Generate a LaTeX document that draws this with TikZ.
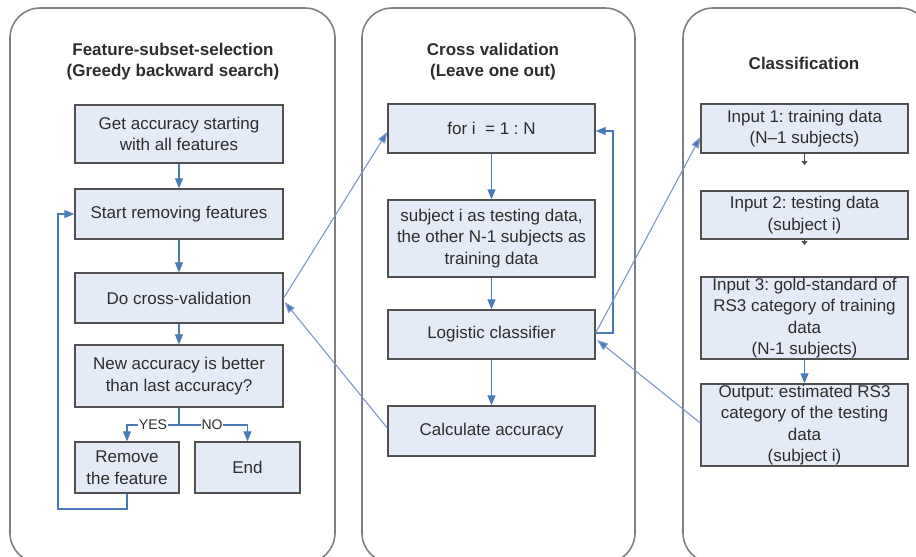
\documentclass[tikz,border=0pt]{standalone}
\usepackage{fontspec}
\setmainfont{Liberation Sans}
\usetikzlibrary{arrows.meta,calc}
\frenchspacing
\definecolor{boxfill}{RGB}{228,234,246}
\definecolor{boxline}{RGB}{80,80,80}
\definecolor{panelline}{RGB}{128,128,128}
\definecolor{txt}{RGB}{45,45,45}
\definecolor{flow}{RGB}{74,122,184}
\definecolor{link}{RGB}{125,152,198}
\tikzset{
  panel/.style={draw=panelline, line width=1.6, rounded corners=30},
  stage/.style={draw=boxline, fill=boxfill, line width=1.4, align=center,
    inner sep=0pt, text=txt, font=\fontsize{17}{21.5}\selectfont},
  heading/.style={align=center, text=txt, inner sep=0pt,
    font=\fontsize{17}{21}\selectfont\bfseries},
  flowarrow/.style={draw=flow, line width=1.2, -{Triangle[length=10,width=8]}},
  flowline/.style={draw=flow, line width=1.2},
  linkarrow/.style={draw=link, line width=1.1, -{Triangle[length=11,width=8,fill=flow]}},
  tinyarrow/.style={draw=boxline, line width=1, -{Triangle[length=4,width=6]}},
  branch/.style={fill=white, inner sep=0.5pt, text=txt, font=\fontsize{14}{14}\selectfont}
}
\begin{document}
\begin{tikzpicture}[x=1pt,y=-1pt]
\path[use as bounding box] (0,0) rectangle (916,557);
\clip (0,0) rectangle (916,557);

% three panels
\draw[panel] (10,8) rectangle (335,563);
\draw[panel] (362,8) rectangle (635,563);
\draw[panel] (683,8) rectangle (930,563);

% headings
\node[heading] (hleft) at (173,62) {Feature-subset-selection\\(Greedy backward search)};
\node[heading] (hmid) at (493,62) {Cross validation\\(Leave one out)};
\node[heading] (hright) at (804,63) {Classification};

% feature subset selection
\node[stage, minimum width=208, minimum height=58] (get) at (179,134) {Get accuracy starting\\with all features};
\node[stage, minimum width=208, minimum height=50] (start) at (179,214) {Start removing features};
\node[stage, minimum width=208, minimum height=50] (docv) at (179,298) {Do cross-validation};
\node[stage, minimum width=208, minimum height=62] (better) at (179,376) {New accuracy is better\\than last accuracy?};
\node[stage, minimum width=104, minimum height=51] (remove) at (127,467.5) {Remove\\the feature};
\node[stage, minimum width=105, minimum height=51] (end) at (247.5,467.5) {End};

\draw[flowarrow] (get) -- (start);
\draw[flowarrow] (start) -- (docv);
\draw[flowarrow] (docv) -- (better);
\coordinate (split) at (179,425);
\draw[flowline] (better.south) -- (split);
\draw[flowarrow] (split) -- (remove.north |- split) -- (remove.north);
\draw[flowarrow] (split) -- (end.north |- split) -- (end.north);
\node[branch] (yes) at (153,425) {YES};
\node[branch] (no) at (212,425) {NO};
\coordinate (loopa) at (127,509);
\coordinate (loopb) at (58,509);
\draw[flowarrow] (remove.south) -- (loopa) -- (loopb) -- (loopb |- start.west) -- (start.west);

% cross validation
\node[stage, minimum width=207, minimum height=49] (fori) at (491.5,128.5) {for i \ = 1 : N};
\node[stage, minimum width=207, minimum height=77] (subj) at (491.5,238.5) {subject i as testing data,\\the other N-1 subjects as\\training data};
\node[stage, minimum width=207, minimum height=49] (logi) at (491.5,334.5) {Logistic classifier};
\node[stage, minimum width=207, minimum height=50] (calc) at (491.5,431) {Calculate accuracy};

\draw[flowarrow] (fori) -- (subj);
\draw[flowarrow] (subj) -- (logi);
\draw[flowarrow] (logi) -- (calc);
\coordinate (repeat) at (613,333);
\draw[flowarrow] ($(logi.east)+(0,-1.5)$) -- (repeat) -- (repeat |- 0,131) -- ($(fori.east)+(0,2.5)$);

% classification
\node[stage, minimum width=207, minimum height=49] (in1) at (804.5,128.5) {Input 1: training data\\(N--1 subjects)};
\node[stage, minimum width=207, minimum height=48] (in2) at (804.5,215) {Input 2: testing data\\(subject i)};
\node[stage, minimum width=207, minimum height=82] (in3) at (804.5,318) {Input 3: gold-standard of\\RS3 category of training\\data\\(N-1 subjects)};
\node[stage, minimum width=207, minimum height=82] (out) at (804.5,425) {Output: estimated RS3\\category of the testing\\data\\(subject i)};

\coordinate (t1) at (804.5,165);
\coordinate (t2) at (804.5,245);
\draw[tinyarrow] (in1.south) -- (t1);
\draw[tinyarrow] (in2.south) -- (t2);
\draw[flowarrow] (in3) -- (out);

% links between the panels
\draw[linkarrow] (docv.east) -- ($(fori.west)+(0,3.5)$);
\draw[linkarrow] ($(calc.west)+(0,-3)$) -- ($(docv.east)+(1,4)$);
\draw[linkarrow] ($(logi.east)+(0,-1.5)$) -- ($(in1.west)+(0,8.5)$);
\draw[linkarrow] ($(out.west)+(0,-2)$) -- ($(logi.east)+(1.5,5.5)$);
\end{tikzpicture}
\end{document}
